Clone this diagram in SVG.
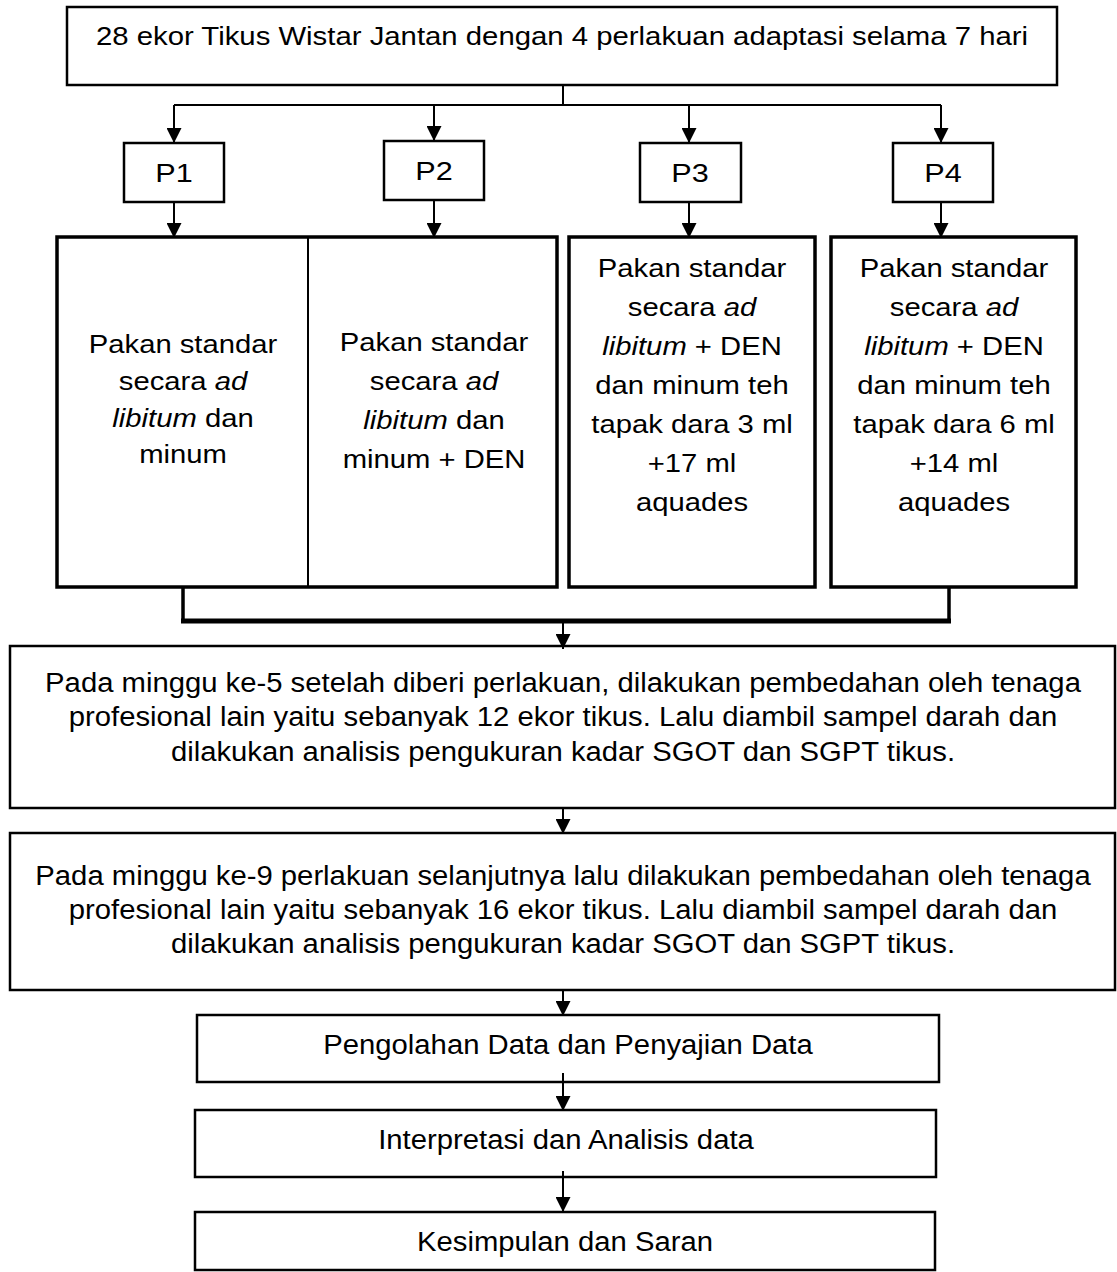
<svg xmlns="http://www.w3.org/2000/svg" width="1117" height="1272" viewBox="0 0 1117 1272">
<style>
.box{fill:#fff;stroke:#000;stroke-width:2.5}
.thick{stroke-width:3.5}
.t{font-family:"Liberation Sans",Arial,sans-serif;font-size:25px;text-anchor:middle;fill:#000}
.b{font-size:28px}
.i{font-style:italic}
.conn{stroke:#000;stroke-width:2;fill:none}
</style>
<defs>
<marker id="ah" markerUnits="userSpaceOnUse" markerWidth="15" markerHeight="15" refX="15" refY="7.5" orient="auto">
<path d="M0,0 L15,7.5 L0,15 z" fill="#000"/>
</marker>
</defs>
<rect width="1117" height="1272" fill="#fff"/>

<g id="n-top">
<rect class="box" x="67" y="7" width="990" height="78"/>
<g transform="translate(562,0) scale(1.15,1)"><text class="t" x="0" y="45" style="font-size:25.5px">28 ekor Tikus Wistar Jantan dengan 4 perlakuan adaptasi selama 7 hari</text></g>
</g>

<g id="n-p1"><rect class="box" x="124" y="143" width="100" height="59"/>
<g transform="translate(174,0) scale(1.2,1)"><text class="t" x="0" y="182" style="font-size:25.5px">P1</text></g></g>
<g id="n-p2"><rect class="box" x="384" y="141" width="100" height="59"/>
<g transform="translate(434,0) scale(1.2,1)"><text class="t" x="0" y="180" style="font-size:25.5px">P2</text></g></g>
<g id="n-p3"><rect class="box" x="640" y="143" width="101" height="59"/>
<g transform="translate(690,0) scale(1.2,1)"><text class="t" x="0" y="182" style="font-size:25.5px">P3</text></g></g>
<g id="n-p4"><rect class="box" x="893" y="143" width="100" height="59"/>
<g transform="translate(943,0) scale(1.2,1)"><text class="t" x="0" y="182" style="font-size:25.5px">P4</text></g></g>

<g id="n-c12">
<rect class="box thick" x="57" y="237" width="500" height="350"/>
<line x1="308" y1="237" x2="308" y2="587" stroke="#000" stroke-width="2"/>
</g>
<g id="n-c1">
<g transform="translate(183,0) scale(1.17,1)">
<text class="t" x="0" y="353">Pakan standar</text>
<text class="t" x="0" y="390">secara <tspan class="i">ad</tspan></text>
<text class="t" x="0" y="427"><tspan class="i">libitum</tspan> dan</text>
<text class="t" x="0" y="463">minum</text>
</g>
</g>
<g id="n-c2">
<g transform="translate(434,0) scale(1.17,1)">
<text class="t" x="0" y="351">Pakan standar</text>
<text class="t" x="0" y="390">secara <tspan class="i">ad</tspan></text>
<text class="t" x="0" y="429"><tspan class="i">libitum</tspan> dan</text>
<text class="t" x="0" y="468">minum + DEN</text>
</g>
</g>
<g id="n-c3">
<rect class="box thick" x="569" y="237" width="246" height="350"/>
<g transform="translate(692,0) scale(1.17,1)">
<text class="t" x="0" y="277">Pakan standar</text>
<text class="t" x="0" y="316">secara <tspan class="i">ad</tspan></text>
<text class="t" x="0" y="355"><tspan class="i">libitum</tspan> + DEN</text>
<text class="t" x="0" y="394">dan minum teh</text>
<text class="t" x="0" y="433">tapak dara 3 ml</text>
<text class="t" x="0" y="472">+17 ml</text>
<text class="t" x="0" y="511">aquades</text>
</g>
</g>
<g id="n-c4">
<rect class="box thick" x="831" y="237" width="245" height="350"/>
<g transform="translate(954,0) scale(1.17,1)">
<text class="t" x="0" y="277">Pakan standar</text>
<text class="t" x="0" y="316">secara <tspan class="i">ad</tspan></text>
<text class="t" x="0" y="355"><tspan class="i">libitum</tspan> + DEN</text>
<text class="t" x="0" y="394">dan minum teh</text>
<text class="t" x="0" y="433">tapak dara 6 ml</text>
<text class="t" x="0" y="472">+14 ml</text>
<text class="t" x="0" y="511">aquades</text>
</g>
</g>

<g id="n-week5">
<rect class="box" x="10" y="646" width="1105" height="162"/>
<g transform="translate(563,0) scale(1.045,1)">
<text class="t b" x="0" y="692">Pada minggu ke-5 setelah diberi perlakuan, dilakukan pembedahan oleh tenaga</text>
<text class="t b" x="0" y="726">profesional lain yaitu sebanyak 12 ekor tikus. Lalu diambil sampel darah dan</text>
<text class="t b" x="0" y="761">dilakukan analisis pengukuran kadar SGOT dan SGPT tikus.</text>
</g>
</g>

<g id="n-week9">
<rect class="box" x="10" y="833" width="1105" height="157"/>
<g transform="translate(563,0) scale(1.045,1)">
<text class="t b" x="0" y="885">Pada minggu ke-9 perlakuan selanjutnya lalu dilakukan pembedahan oleh tenaga</text>
<text class="t b" x="0" y="919">profesional lain yaitu sebanyak 16 ekor tikus. Lalu diambil sampel darah dan</text>
<text class="t b" x="0" y="953">dilakukan analisis pengukuran kadar SGOT dan SGPT tikus.</text>
</g>
</g>

<g id="n-olah">
<rect class="box" x="197" y="1015" width="742" height="67"/>
<g transform="translate(568,0) scale(1.045,1)"><text class="t b" x="0" y="1054">Pengolahan Data dan Penyajian Data</text></g>
</g>
<g id="n-interp">
<rect class="box" x="195" y="1110" width="741" height="67"/>
<g transform="translate(566,0) scale(1.045,1)"><text class="t b" x="0" y="1149">Interpretasi dan Analisis data</text></g>
</g>
<g id="n-kesim">
<rect class="box" x="195" y="1212" width="740" height="58"/>
<g transform="translate(565,0) scale(1.045,1)"><text class="t b" x="0" y="1251">Kesimpulan dan Saran</text></g>
</g>

<g id="connectors">
<path class="conn" d="M563,85 V105 M174,105 H941"/>
<path class="conn" d="M174,105 V143" marker-end="url(#ah)"/>
<path class="conn" d="M434,105 V141" marker-end="url(#ah)"/>
<path class="conn" d="M689,105 V143" marker-end="url(#ah)"/>
<path class="conn" d="M941,105 V143" marker-end="url(#ah)"/>
<path class="conn" d="M174,202 V238" marker-end="url(#ah)"/>
<path class="conn" d="M434,200 V238" marker-end="url(#ah)"/>
<path class="conn" d="M689,202 V238" marker-end="url(#ah)"/>
<path class="conn" d="M941,202 V238" marker-end="url(#ah)"/>
<path class="conn" d="M183,587 V621 M949,587 V621" style="stroke-width:3.5"/>
<path class="conn" d="M181,621 H951" style="stroke-width:5"/>
<path class="conn" d="M563,623 V649" marker-end="url(#ah)"/>
<path class="conn" d="M563,808 V834" marker-end="url(#ah)"/>
<path class="conn" d="M563,990 V1016" marker-end="url(#ah)"/>
<path class="conn" d="M563,1073 V1111" marker-end="url(#ah)"/>
<path class="conn" d="M563,1171 V1212" marker-end="url(#ah)"/>
</g>
</svg>
